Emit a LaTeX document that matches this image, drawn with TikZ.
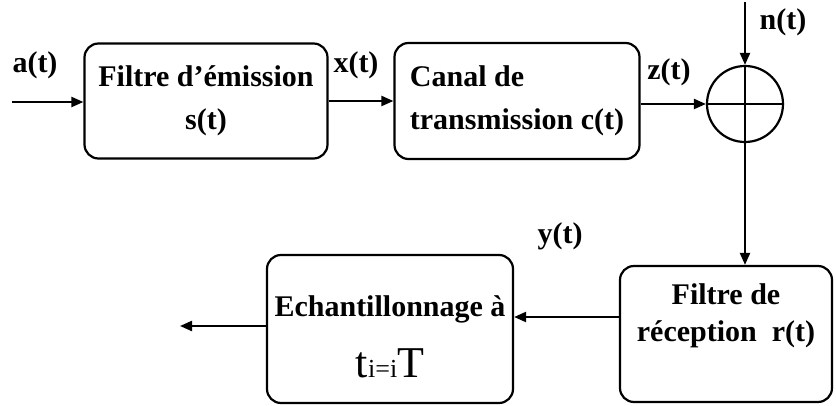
\documentclass[tikz,border=0pt]{standalone}
\usepackage{fontspec}
\setmainfont{Liberation Serif}
\usetikzlibrary{arrows.meta,positioning}
\tikzstyle{every link} = []
\tikzstyle{link} = [-{Triangle[length=6pt,width=5pt]}, draw, line width=1.1pt, every link]
\tikzstyle{bloc} = [draw, line width=1.1pt, rounded corners=7pt, align=center, font=\fontsize{15}{21.5}\selectfont\bfseries]
\tikzstyle{signal} = [font=\fontsize{15}{17}\selectfont\bfseries, inner sep=0pt]

\begin{document}
\begin{tikzpicture}[x=0.5pt, y=-0.5pt]
  \useasboundingbox (0,0) rectangle (836,406);

  % ligne du haut
  \node[bloc, minimum width=121.5pt, minimum height=57.5pt] (emission) at (206,101) {Filtre d’émission\\s(t)};
  \node[bloc, align=left, minimum width=122.5pt, minimum height=58pt] (canal) at (517,101) {Canal de\\transmission c(t)};
  \node[circle, draw, line width=1.1pt, minimum size=38pt, inner sep=0pt] (somme) at (745,104) {};
  \draw[line width=1.1pt] (somme.north) -- (somme.south);
  \draw[line width=1.1pt] (somme.west) -- (somme.east);

  % ligne du bas
  \node[bloc, minimum width=106pt, minimum height=68pt] (recep) at (726,334) {};
  \node[bloc, draw=none, font=\fontsize{15}{18.5}\selectfont\bfseries] (recepTexte) at ([yshift=9pt]recep.center) {Filtre de\\réception~~r(t)};
  \node[bloc, minimum width=123pt, minimum height=74pt] (echant) at (390,329) {};
  \node[bloc, draw=none] (echantTexte) at ([yshift=-4pt]echant.center)
    {Echantillonnage à\\[9pt]{\fontsize{22}{26}\selectfont\mdseries t{\fontsize{13}{15}\selectfont i=i}T}};

  % signaux
  \coordinate (entree) at (12,102);
  \coordinate (bruit) at (745,2);
  \coordinate (sortie) at (180,326);
  \draw[link] (entree) -- (entree -| emission.west);
  \draw[link] (emission.east) -- (emission.east -| canal.west);
  \draw[link] (canal.east |- somme) -- (somme.west);
  \draw[link] (bruit) -- (somme.north);
  \draw[link] (somme.south) -- (somme.south |- recep.north);
  \draw[link] (recep.west |- 0,317) -- (echant.east |- 0,317);
  \draw[link] (echant.west |- sortie) -- (sortie);

  \node[signal] (a) at (35,65) {a(t)};
  \node[signal] (x) at (356,65) {x(t)};
  \node[signal] (z) at (669,72) {z(t)};
  \node[signal] (n) at (783,22) {n(t)};
  \node[signal] (y) at (560,236) {y(t)};
\end{tikzpicture}
\end{document}
